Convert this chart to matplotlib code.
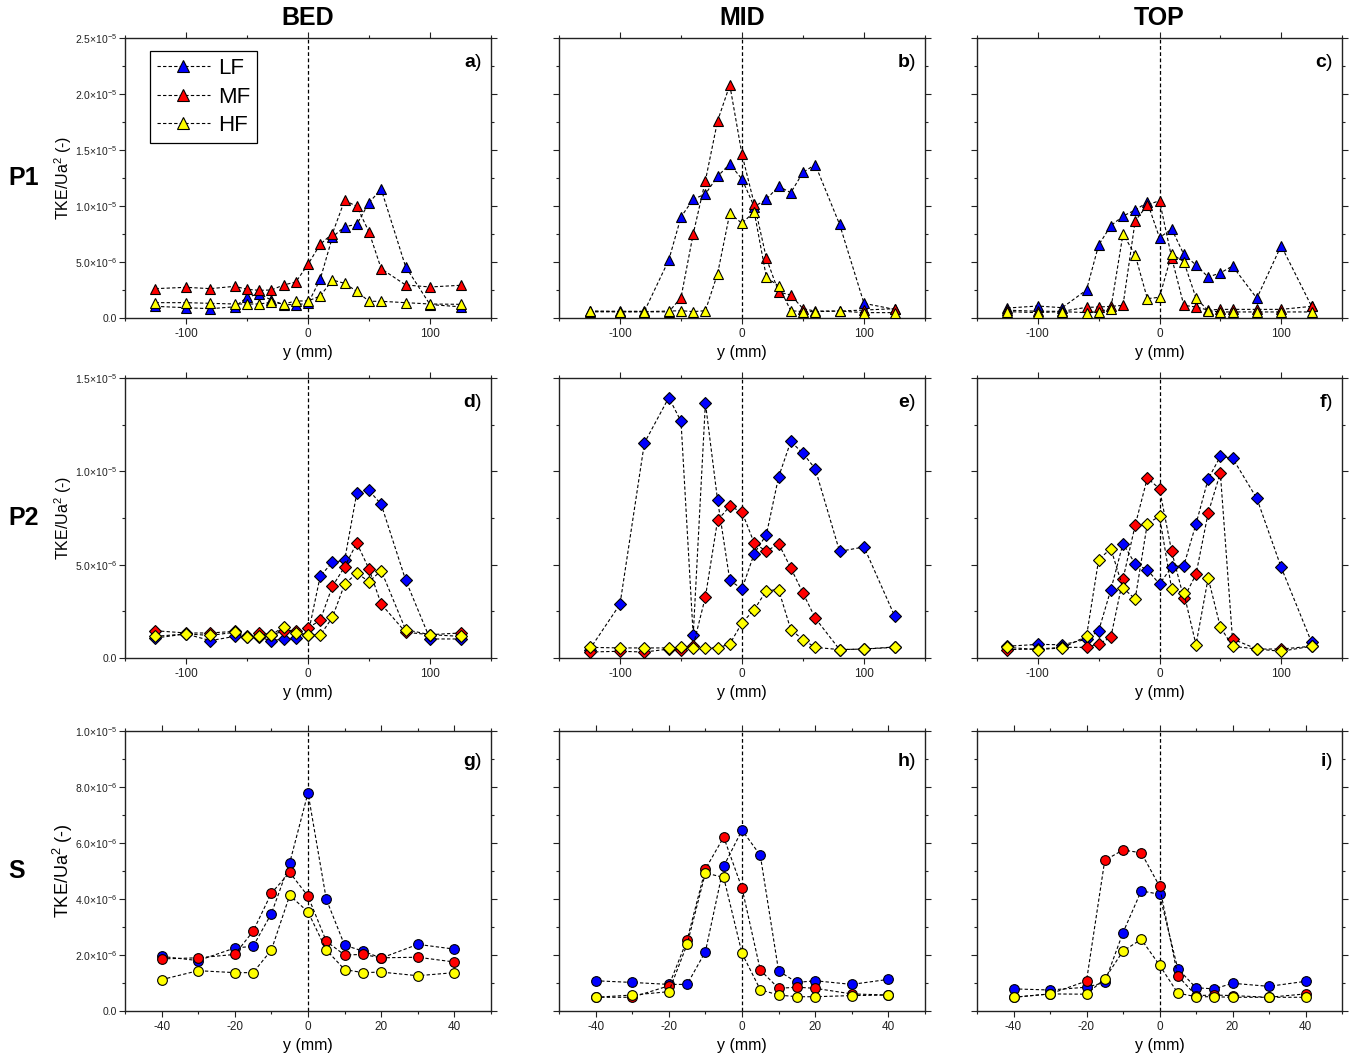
import matplotlib
matplotlib.use("Agg")
import matplotlib.pyplot as plt
from matplotlib.ticker import MultipleLocator, FuncFormatter
from matplotlib import transforms

plt.rcParams['font.family'] = ['Liberation Sans', 'DejaVu Sans']
plt.rcParams['mathtext.fontset'] = 'custom'
plt.rcParams['mathtext.rm'] = 'Liberation Sans'
plt.rcParams['mathtext.it'] = 'Liberation Sans:italic'
plt.rcParams['mathtext.bf'] = 'Liberation Sans:bold'
plt.rcParams['axes.unicode_minus'] = False

# ---------------- data (TKE/Ua^2, in units of 1e-6) ----------------
x_p = [-125, -100, -80, -60, -50, -40, -30, -20, -10, 0, 10, 20, 30, 40, 50, 60, 80, 100, 125]
x_s = [-40, -30, -20, -15, -10, -5, 0, 5, 10, 15, 20, 30, 40]

series_names = ["LF", "MF", "HF"]
series_colors = ["#0000ff", "#ff0000", "#ffff00"]
col_titles = ["BED", "MID", "TOP"]
row_titles = ["P1", "P2", "S"]
panel_letters = ["a", "b", "c", "d", "e", "f", "g", "h", "i"]

# P1 – BED / MID / TOP
a_LF = [1.04, 0.92, 0.83, 1.0, 1.85, 2.17, 1.6, 1.2, 1.19, 1.3, 3.45, 7.23, 8.15, 8.36, 10.3, 11.5, 4.58, 1.2, 1.0]
a_MF = [2.62, 2.74, 2.62, 2.83, 2.56, 2.47, 2.5, 2.95, 3.21, 4.79, 6.58, 7.53, 10.5, 9.97, 7.68, 4.40, 2.95, 2.77, 2.92]
a_HF = [1.37, 1.37, 1.31, 1.25, 1.25, 1.25, 1.4, 1.25, 1.52, 1.52, 1.96, 3.39, 3.1, 2.38, 1.49, 1.49, 1.37, 1.25, 1.22]

b_LF = [0.6, 0.6, 0.6, 5.18, 9.02, 10.6, 11.07, 12.65, 13.75, 12.4, 9.94, 10.6, 11.76, 11.19, 13.0, 13.7, 8.36, 1.31, 0.77]
b_MF = [0.55, 0.55, 0.55, 0.55, 1.82, 7.5, 12.26, 17.6, 20.8, 14.6, 10.2, 5.33, 2.32, 2.05, 0.83, 0.62, 0.62, 0.71, 0.83]
b_HF = [0.62, 0.57, 0.57, 0.62, 0.65, 0.57, 0.65, 3.96, 9.35, 8.45, 9.5, 3.63, 2.86, 0.65, 0.57, 0.57, 0.62, 0.48, 0.48]

c_LF = [0.89, 1.07, 0.92, 2.5, 6.52, 8.24, 9.1, 9.64, 10.33, 7.17, 7.95, 5.68, 4.73, 3.66, 4.02, 4.64, 1.76, 6.46, 1.04]
c_MF = [0.7, 0.6, 0.6, 0.95, 0.98, 1.04, 1.13, 8.66, 10.09, 10.48, 5.39, 1.13, 0.98, 0.71, 0.77, 0.77, 0.77, 0.77, 1.04]
c_HF = [0.57, 0.48, 0.57, 0.48, 0.57, 0.83, 7.5, 5.63, 1.73, 1.85, 5.71, 5.03, 1.79, 0.65, 0.54, 0.54, 0.54, 0.54, 0.54]

# P2 – BED / MID / TOP
d_LF = [1.07, 1.29, 0.93, 1.16, 1.13, 1.11, 0.93, 1.02, 1.07, 1.25, 4.38, 5.13, 5.23, 8.84, 8.98, 8.23, 4.18, 1.02, 1.02]
d_MF = [1.46, 1.34, 1.34, 1.43, 1.16, 1.34, 1.25, 1.43, 1.43, 1.61, 2.02, 3.84, 4.88, 6.16, 4.77, 2.89, 1.38, 1.25, 1.34]
d_HF = [1.16, 1.29, 1.21, 1.38, 1.13, 1.16, 1.25, 1.66, 1.34, 1.25, 1.21, 2.18, 3.95, 4.55, 4.09, 4.68, 1.52, 1.25, 1.16]

e_LF = [0.45, 2.88, 11.52, 13.95, 12.68, 1.21, 13.66, 8.45, 4.16, 3.7, 5.59, 6.61, 9.7, 11.6, 10.96, 10.14, 5.71, 5.95, 2.27]
e_MF = [0.32, 0.36, 0.32, 0.48, 0.41, 0.66, 3.27, 7.38, 8.13, 7.82, 6.16, 5.71, 6.13, 4.82, 3.48, 2.14, 0.45, 0.48, 0.57]
e_HF = [0.57, 0.54, 0.54, 0.54, 0.57, 0.54, 0.54, 0.54, 0.75, 1.88, 2.59, 3.61, 3.66, 1.52, 0.98, 0.57, 0.45, 0.48, 0.59]

f_LF = [0.63, 0.73, 0.71, 1.0, 1.46, 3.66, 6.13, 5.04, 4.73, 3.96, 4.88, 4.95, 7.18, 9.59, 10.8, 10.71, 8.55, 4.86, 0.84]
f_MF = [0.45, 0.48, 0.57, 0.57, 0.75, 1.11, 4.23, 7.11, 9.64, 9.07, 5.71, 3.2, 4.48, 7.77, 9.91, 1.02, 0.48, 0.48, 0.63]
f_HF = [0.57, 0.45, 0.54, 1.16, 5.27, 5.86, 3.75, 3.16, 7.2, 7.59, 3.7, 3.48, 0.71, 4.29, 1.66, 0.63, 0.48, 0.36, 0.63]

# S – BED / MID / TOP
g_LF = [1.95, 1.80, 2.25, 2.31, 3.48, 5.29, 7.79, 3.99, 2.35, 2.14, 1.89, 2.38, 2.21]
g_MF = [1.86, 1.9, 2.02, 2.85, 4.21, 4.95, 4.1, 2.49, 2.0, 2.02, 1.9, 1.92, 1.75]
g_HF = [1.12, 1.44, 1.37, 1.37, 2.18, 4.13, 3.54, 2.18, 1.48, 1.37, 1.39, 1.26, 1.37]

h_LF = [1.08, 1.02, 0.95, 0.95, 2.12, 5.17, 6.46, 5.56, 1.43, 1.02, 1.08, 0.95, 1.13]
h_MF = [0.49, 0.49, 0.9, 2.54, 5.07, 6.21, 4.39, 1.46, 0.81, 0.85, 0.81, 0.61, 0.57]
h_HF = [0.49, 0.57, 0.69, 2.38, 4.93, 4.77, 2.06, 0.76, 0.57, 0.51, 0.51, 0.55, 0.57]

i_LF = [0.79, 0.75, 0.85, 1.02, 2.8, 4.29, 4.17, 1.51, 0.83, 0.79, 0.99, 0.88, 1.06]
i_MF = [0.49, 0.61, 1.07, 5.38, 5.75, 5.65, 4.46, 1.26, 0.55, 0.57, 0.55, 0.49, 0.61]
i_HF = [0.49, 0.61, 0.6, 1.15, 2.14, 2.56, 1.64, 0.64, 0.51, 0.51, 0.49, 0.49, 0.49]

panels = [
    [(a_LF, a_MF, a_HF), (b_LF, b_MF, b_HF), (c_LF, c_MF, c_HF)],
    [(d_LF, d_MF, d_HF), (e_LF, e_MF, e_HF), (f_LF, f_MF, f_HF)],
    [(g_LF, g_MF, g_HF), (h_LF, h_MF, h_HF), (i_LF, i_MF, i_HF)],
]
SCALE = 1e-6

# ---------------- layout ----------------
W, H = 1350, 1059
fig = plt.figure(figsize=(W / 100, H / 100), dpi=100)

col_left = [125, 559, 977]
col_width = [366, 366, 365]
row_top = [38, 378, 731]
row_height = 280

row_cfg = [
    dict(x=x_p, xlim=(-150, 150), xmaj=100, xmin=50, ylim=(0, 2.5e-5), ymaj=5e-6, ymin=2.5e-6, marker="^", ms=7.2, ylab_size=11.5),
    dict(x=x_p, xlim=(-150, 150), xmaj=100, xmin=50, ylim=(0, 1.5e-5), ymaj=5e-6, ymin=2.5e-6, marker="D", ms=6.0, ylab_size=11.5),
    dict(x=x_s, xlim=(-50, 50), xmaj=20, xmin=10, ylim=(0, 1.0e-5), ymaj=2e-6, ymin=1e-6, marker="o", ms=7.0, ylab_size=13),
]


def sci_label(v, pos):
    if abs(v) < 1e-12:
        return "0.0"
    exp = 0
    m = v
    while abs(m) >= 10:
        m /= 10
        exp += 1
    while abs(m) < 1:
        m *= 10
        exp -= 1
    return r"$%.1f{\times}10^{%d}$" % (m, exp)


for r in range(3):
    cfg = row_cfg[r]
    for c in range(3):
        left = col_left[c] / W
        bottom = 1 - (row_top[r] + row_height) / H
        ax = fig.add_axes([left, bottom, col_width[c] / W, row_height / H])
        ax.axvline(0, color="black", ls=(0, (3, 2)), lw=0.9, zorder=1)
        for k, vals in enumerate(panels[r][c]):
            ax.plot(cfg["x"], [v * SCALE for v in vals], ls=(0, (3, 2)), color="black", lw=0.8,
                    marker=cfg["marker"], ms=cfg["ms"], mfc=series_colors[k], mec="black", mew=0.8,
                    label=series_names[k], zorder=2 + k)
        ax.set_xlim(*cfg["xlim"])
        ax.set_ylim(*cfg["ylim"])
        ax.xaxis.set_major_locator(MultipleLocator(cfg["xmaj"]))
        ax.xaxis.set_minor_locator(MultipleLocator(cfg["xmin"]))
        ax.yaxis.set_major_locator(MultipleLocator(cfg["ymaj"]))
        ax.yaxis.set_minor_locator(MultipleLocator(cfg["ymin"]))
        ax.tick_params(which="both", direction="out", top=True, right=True, width=0.8, colors="#222222", labelsize=8.5)
        ax.tick_params(which="major", length=4)
        ax.tick_params(which="minor", length=2.5)
        for s in ax.spines.values():
            s.set_linewidth(1.0)
            s.set_color("#222222")
        if c == 0:
            ax.yaxis.set_major_formatter(FuncFormatter(sci_label))
            ax.tick_params(axis="y", labelsize=7.5, pad=2)
        else:
            ax.set_yticklabels([])
        ax.set_xlabel("y (mm)", fontsize=11.5, labelpad=3)

        # panel letter: bold letter followed by a regular parenthesis
        ly = 0.895 if r < 2 else 0.875
        ax.text(0.975, ly, ")", transform=ax.transAxes, ha="right", va="baseline", fontsize=14)
        off = transforms.offset_copy(ax.transAxes, fig=fig, x=-4.8, y=0, units="points")
        ax.text(0.975, ly, panel_letters[r * 3 + c], transform=off, ha="right", va="baseline",
                fontsize=14, fontweight="bold")

        if r == 0 and c == 0:
            ax.legend(loc="upper left", bbox_to_anchor=(0.068, 0.952), fontsize=16, frameon=True,
                      fancybox=False, edgecolor="black", framealpha=1, handlelength=2.4,
                      handletextpad=0.35, borderpad=0.3, labelspacing=0.34, borderaxespad=0,
                      markerscale=1.1)
            ax.get_legend().get_frame().set_linewidth(0.9)

    # row title and y-axis label
    yc = 1 - (row_top[r] + row_height / 2) / H
    fig.text(8 / W, yc, row_titles[r], ha="left", va="center", fontsize=18, fontweight="bold")
    fig.text(63 / W, yc, r"TKE/Ua$^2$ (-)", ha="center", va="center", rotation=90, fontsize=cfg["ylab_size"])

for c in range(3):
    xc = (col_left[c] + col_width[c] / 2) / W
    fig.text(xc, 1 - 18 / H, col_titles[c], ha="center", va="center", fontsize=18, fontweight="bold")

fig.savefig("out.png", dpi=100)
